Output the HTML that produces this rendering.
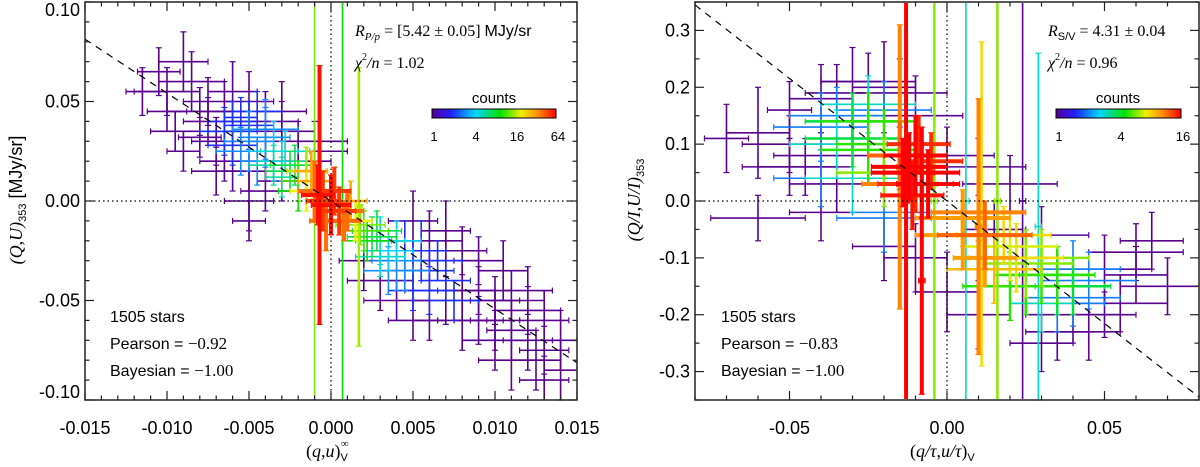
<!DOCTYPE html>
<html><head><meta charset="utf-8">
<style>
html,body{margin:0;padding:0;background:#fff;overflow:hidden;width:1200px;height:467px;}
#wrap{position:relative;width:1200px;height:467px;overflow:hidden;}
svg{display:block;font-family:"Liberation Sans",sans-serif;}
.tk{font-size:18px;fill:#000;}
.ser{font-family:"Liberation Serif",serif;}
</style></head>
<body>
<div id="wrap">
<svg id="chart" width="1200" height="467" viewBox="0 0 1200 467" style="position:absolute;left:0;top:0">
<defs>
<linearGradient id="cmap" x1="0" x2="1" y1="0" y2="0">
<stop offset="0" stop-color="#5a0090"/><stop offset="0.15" stop-color="#2020ff"/><stop offset="0.35" stop-color="#00d8ff"/><stop offset="0.55" stop-color="#00e000"/><stop offset="0.72" stop-color="#f0f000"/><stop offset="0.85" stop-color="#ff9000"/><stop offset="1" stop-color="#ff0000"/>
</linearGradient>
</defs>
<g id="left"></g>
<g id="right"></g>
</svg>
<svg width="1200" height="467" viewBox="0 0 1200 467" style="position:absolute;left:0;top:0;font-family:'Liberation Sans',sans-serif">
<g font-size="16">
<text x="355" y="36" class="ser"><tspan font-style="italic">R</tspan><tspan font-style="italic" font-size="11" dy="4">P/p</tspan><tspan dy="-4"> = [5.42 ± 0.05] </tspan><tspan font-family="Liberation Sans">MJy/sr</tspan></text>
<text x="355" y="68" class="ser"><tspan font-style="italic">χ</tspan><tspan font-size="10" dy="-8">2</tspan><tspan dy="8" font-style="italic">/n</tspan> = 1.02</text>
<text x="494" y="103" text-anchor="middle" font-size="15">counts</text>
<rect x="432" y="109" width="124" height="9" fill="url(#cmap)" stroke="#000"/>
<g font-size="13" text-anchor="middle"><text x="434" y="141">1</text><text x="476" y="141">4</text><text x="517" y="141">16</text><text x="558" y="141">64</text></g>
<text x="110" y="322" font-size="16">1505 stars</text>
<text x="110" y="349" font-size="16">Pearson = <tspan class="ser" font-size="17">−0.92</tspan></text>
<text x="110" y="376" font-size="16">Bayesian = <tspan class="ser" font-size="17">−1.00</tspan></text>
<text x="306" y="457" class="ser" font-size="18">(<tspan font-style="italic">q</tspan>,<tspan font-style="italic">u</tspan>)<tspan font-size="11" dy="4" font-family="Liberation Sans">V</tspan><tspan font-size="11" dx="-7" dy="-14">∞</tspan></text>
<text transform="translate(22,200) rotate(-90)" text-anchor="middle" font-size="18"><tspan class="ser" font-style="italic">(Q,U)</tspan><tspan font-size="11" dy="4">353</tspan><tspan dy="-4"> [MJy/sr]</tspan></text>

<text x="1048" y="36" class="ser"><tspan font-style="italic">R</tspan><tspan font-size="11" dy="4" font-family="Liberation Sans">S/V</tspan><tspan dy="-4"> = 4.31 ± 0.04</tspan></text>
<text x="1048" y="68" class="ser"><tspan font-style="italic">χ</tspan><tspan font-size="10" dy="-8">2</tspan><tspan dy="8" font-style="italic">/n</tspan> = 0.96</text>
<text x="1118" y="103" text-anchor="middle" font-size="15">counts</text>
<rect x="1056" y="109" width="125" height="9" fill="url(#cmap)" stroke="#000"/>
<g font-size="13" text-anchor="middle"><text x="1059" y="141">1</text><text x="1121" y="141">4</text><text x="1183" y="141">16</text></g>
<text x="721" y="322" font-size="16">1505 stars</text>
<text x="721" y="349" font-size="16">Pearson = <tspan class="ser" font-size="17">−0.83</tspan></text>
<text x="721" y="376" font-size="16">Bayesian = <tspan class="ser" font-size="17">−1.00</tspan></text>
<text x="910" y="457" class="ser" font-size="18">(<tspan font-style="italic">q/τ</tspan>,<tspan font-style="italic">u/τ</tspan>)<tspan font-size="11" dy="4" font-family="Liberation Sans">V</tspan></text>
<text transform="translate(640,200) rotate(-90)" text-anchor="middle" font-size="18"><tspan class="ser" font-style="italic">(Q/I,U/I)</tspan><tspan font-size="11" dy="4">353</tspan></text>
</g>
</svg>
</div>
<script>
// LEFT panel data: x in units 1e-3, y in units 1e-2
const lx=[-11.5,-10.5,-9,-10,-8.5,-7.5,-8,-9,-7,-6,-5,-6.5,-5,-4,-3,-2,-4,-3,-6,-5,-5.5,-4,-3.5,-4.5,-3,-2.5,-2,-3,-1,-0.5,0,0.5,1,-1,1.5,2,2.5,3,3.5,4,5,6,7,5.5,6,7,8,9,8,10,11,12,11,12,13,14,12.5,10,9,7,4,6,-1,0.7,-0.7,1.7,
-6.5,-6,-5.5,-5,-4.5,-4,-6,-7,-7.5,-6.5,-5,-3.5,-2.8,-2.2,-2,-1.5,-1.5,-0.8,0.2,0.8,-0.3,-1.2,1.2,1.8,2.2,2.8,3,4,4.5,3.5,5,6.5,7.5,4.5,6,3,5,8,9,10,11,13,14,13,12,10.5,7,5,2,-2,-1,-3,-6,-8,-10,-9.5,-4,-5];
const ly=[5.5,6.5,7,4.5,6,5,3.2,2.5,1.5,1.5,0,4.5,5,4,3.5,3,2,1,3.5,3,4.2,3.2,2.5,2,2,1.5,1,1.2,0.5,0,-0.2,-0.5,-0.5,1,-1,-1.5,-1.8,-2,-2.5,-3,-3.5,-3.5,-4,-2.5,-2,-1.5,-2.5,-3,-4.5,-5,-5,-4.5,-6.5,-7,-7.5,-8.5,-8,-7,-6,-5,-5,-6,0,0,0.3,-0.3,
3.5,2.8,2.5,3.8,4.5,3.6,4.0,3.0,4.0,2,1.5,1.8,2.5,1.8,0.5,1.5,0.5,0.3,0.5,-1,-1,1.5,0,-1.2,-2,-1.5,-2.8,-2,-3.5,-3.5,-4.5,-3,-5,-2.5,-4.5,-4,-6,-6,-4.5,-6,-8,-6,-7,-9,-5.5,-3.5,-3,-1,-3,2,2.5,4.5,5.5,4.5,5.5,3.5,0.5,-1];
const lex=[1,1.3,1.5,1.2,2,1.5,1.3,1,1.5,1,1.5,1.5,1.5,2,2,3,1.5,1.5,1.5,1.5,1,1.5,1.5,1,1.5,1.5,1,1,1,1,1.2,1,1,1,1,1.5,1.5,1.5,1.5,1.5,1.5,1.5,1.5,1.5,2,1.5,1.5,1.5,2,1.5,2,1.5,1.5,1.5,1.5,1,1.5,2,1.5,2,2,1,0.2,0.2,0.2,0.2,
1.5,1.5,1.5,1.5,1.5,2,1.5,1.5,1.5,1.5,1.5,1.5,1.5,1.5,1.2,1.2,1,1,1,1,1,1,1,1.5,1.5,1.5,1.5,1.5,1.5,1.5,1.5,1.5,1.5,1.5,1.5,2,1.5,1.5,2,1.5,2,1.5,1,1.5,2,1.5,2,1.5,1.5,2,2,1.5,1.5,2,2,1.5,1.5,1];
const ley=[1.2,1.2,1.5,1,1.5,1.2,1,1,1.2,1,1.5,1.5,1.5,1.5,1.5,1,1,1,1.5,1.5,1,1.5,1.5,1.2,1,1,1,1,1.5,1.5,1.5,1.2,1,1,1,1,1,1.2,1,1.5,1.5,1,1,1.5,1.5,1.5,1.2,1.2,1.5,1.2,1.5,1.2,1.5,1.5,1.2,1.5,1.5,1.5,1.2,1.2,1,1,20,20,6.5,7,
1.2,1,1.2,1.2,1,1.5,1,1.2,1.2,1,1,1,1,1,1,1.2,1,1.5,1.2,1,1.5,1,1,1,1,1,1,1,1,1.2,1,1,1,1.5,1.2,1.5,1,1.5,1.2,1.5,1.5,1.5,1.5,1.2,1.2,1.5,1.5,1.5,1.5,1.5,1.5,1.5,1.5,1.2,1.2,1,1,1];
const lc=[1,1,1,1,1,1,1,1,1,1,1,1,1,1,1,1,1,1,2,3,2,3,4,3,5,8,12,6,40,50,60,50,40,30,20,12,8,5,4,3,2,2,2,2,1,1,1,1,1,1,1,1,1,1,1,1,1,1,1,1,1,1,14,10,60,16,
2,2,3,2,2,3,2,1,1,1,1,6,5,8,10,16,20,60,50,40,40,30,30,14,10,8,5,4,3,3,2,2,2,2,2,1,1,1,1,1,1,1,1,1,1,1,1,1,1,1,1,1,1,1,1,1,1,1];
const lxTicks=["-0.015","-0.010","-0.005","0.000","0.005","0.010","0.015"];
const lyTicks=["-0.10","-0.05","0.00","0.05","0.10"];
// RIGHT panel data: x in units 1e-2, y in units 1e-1
const rx=[-7,-6,-5,-4,-3.5,-6,-4,-4.5,-3,-2,-4,-3.5,-3,-2.5,-3,-2,-2.5,-1.2,-0.8,-1,-0.5,-1.5,0.5,1.2,1.2,2,2.5,3,3.5,2,4,4.5,3,5,6,7,6.5,5,4.5,3,1.5,0,-1.3,-0.8,-0.4,0.6,1.1,1.0,1.6,2.4,2.9,-1.5,
-5,-4,-3.5,-2.5,-1.5,-1,0,1,2,3,-2,-1,4,5.5,6,1,3.5,-5,-3.5,-2,-4,4,3.5,-1.5,-3,-2,-2.5,-2,2.5,3,3.5,4,1.8,2.2,1.5,0.5,1,-1.5,-1,-1.4,-0.6,-1.1,-0.9];
const ry=[1.1,1.2,1.6,1.8,1.9,-0.3,-0.2,0.6,2.1,2,1.3,1.0,1.4,0.9,0.4,-0.3,1.7,0.6,0.5,0.3,0.7,0.8,-0.3,-0.6,-1,-0.8,-1.1,-1.3,-1.5,-1.5,-1.7,-1.4,-1.8,-1.2,-1.3,-1.5,-0.7,-2.0,-2.3,-2.5,-0.5,-1.6,0,-1.4,0,0,-0.05,-0.45,0,0,-0.45,0.6,
0.6,0.8,0.3,2.1,1.9,1.5,0.8,0.6,0.3,-0.6,-0.8,-1.0,-2.0,-1.8,-0.9,-2,-2.3,1.0,1.5,1.6,0.4,-1.2,-1.8,-0.2,1.1,1.0,1.4,0.5,-1.5,-1.0,-1.3,-1.5,-0.6,-1.0,-1.2,-0.6,-0.2,0.3,0.8,0.5,0.3,0.1,1.0];
const rex=[0.7,1,0.7,1,1,1.5,1,1.5,1,1,1.5,1.5,1.5,1.5,1.5,1.5,1.5,1.2,1.2,1.2,1,1,1.5,1.5,1,1.5,1.5,1.5,1.5,1.5,1.5,1.5,1,1.5,1,1.5,1,1,1,1,1,1,0.1,0.1,0.1,0.1,0.1,0.1,0.1,0.1,0.1,0.1,
1.5,1.5,1.5,1.5,1.5,1.5,1.5,1.5,1.5,1.5,1,1,1.5,1.5,1.5,1,1,1.5,1.5,1.5,1.5,1.5,1.5,1.5,1.5,1.5,1.5,1.5,1.5,1.5,1.2,1.2,1.5,1.5,1.5,1.5,1.5,1.2,1,1,1,1,1];
const rey=[0.6,0.8,0.5,0.6,0.5,0.4,0.5,0.5,0.6,0.8,0.6,0.6,0.5,0.6,0.6,0.6,0.5,0.6,0.8,0.5,0.5,0.6,0.5,0.6,0.5,0.6,0.6,0.5,0.5,0.6,0.5,0.5,0.5,0.6,0.5,0.5,0.5,0.4,0.5,0.5,0.5,0.7,4,2,4,4,2.85,2.25,4,4,3.05,2.5,
0.5,0.5,0.5,0.5,0.6,0.7,0.5,0.5,0.5,0.5,0.6,0.6,0.5,0.5,0.5,0.6,0.5,0.5,0.5,0.5,0.5,0.5,0.5,0.6,0.5,0.6,0.5,0.6,0.5,0.5,0.5,0.5,0.5,0.6,0.6,0.6,0.5,0.5,0.7,0.6,0.6,0.6,0.5];
const rc=[1,1,1,1,1,1,1,1,1,1,2,3,4,5,3,2,3,16,16,14,14,12,10,12,10,7,6,5,4,5,2,2,3,1,1,1,1,1,1,1,1,1,16,16,6,3,8,11,6,1,3,11,
1,1,1,1,1,1,1,1,1,1,1,1,1,1,1,1,1,1,2,2,2,2,2,2,4,5,5,6,5,6,5,4,8,8,9,10,11,11,16,16,16,15,14];
const rxTicks=["-0.05","0.00","0.05"];
const ryTicks=["-0.3","-0.2","-0.1","0.0","0.1","0.2","0.3"];

const NS="http://www.w3.org/2000/svg";
function mk(parent,tag,attrs,txt){const e=document.createElementNS(NS,tag);for(const k in attrs)e.setAttribute(k,attrs[k]);if(txt!==undefined)e.textContent=txt;parent.appendChild(e);return e;}
const stops=[[0,[90,0,144]],[0.15,[32,32,255]],[0.35,[0,216,255]],[0.55,[0,224,0]],[0.72,[240,240,0]],[0.85,[255,144,0]],[1,[255,0,0]]];
function cmap(t){t=Math.max(0,Math.min(1,t));for(let i=1;i<stops.length;i++){if(t<=stops[i][0]){const a=stops[i-1],b=stops[i],f=(t-a[0])/(b[0]-a[0]);return 'rgb('+a[1].map((v,j)=>Math.round(v+(b[1][j]-v)*f)).join(',')+')';}}return 'rgb(255,0,0)';}

function panel(g,P){
  const sx=v=>P.x0+(v-P.xmin)/(P.xmax-P.xmin)*(P.x1-P.x0);
  const sy=v=>P.y1-(v-P.ymin)/(P.ymax-P.ymin)*(P.y1-P.y0);
  const cx=v=>Math.max(P.x0+1,Math.min(P.x1-1,sx(v)));
  const cy=v=>Math.max(P.y0+1,Math.min(P.y1-1,sy(v)));
  const inX=p=>p>=P.x0&&p<=P.x1, inY=p=>p>=P.y0&&p<=P.y1;
  const dg=mk(g,'g',{});
  
  
  const idx=P.X.map((_,i)=>i).sort((a,b)=>P.C[a]-P.C[b]);
  idx.forEach(i=>{
    const x=P.X[i]*P.xu,y=P.Y[i]*P.yu,ex=P.EX[i]*P.xu,ey=P.EY[i]*P.yu;
    const col=cmap(Math.log(P.C[i])/Math.log(P.cmax));
    const sw=P.C[i]>=P.cmax*0.6?4:(P.C[i]>=P.cmax*0.25?2.5:1.6);
    const pg=mk(dg,'g',{stroke:col,'stroke-width':sw,fill:'none'});
    
    
    const py=sy(y),px=sx(x);
    if(inY(py)) mk(pg,'line',{x1:cx(x-ex),x2:cx(x+ex),y1:py,y2:py});
    if(inX(px)) mk(pg,'line',{x1:px,x2:px,y1:cy(y-ey),y2:cy(y+ey)});
    [x-ex,x+ex].forEach(v=>{const p=sx(v);if(inX(p)&&inY(py))mk(pg,'line',{x1:p,x2:p,y1:Math.max(P.y0,py-3),y2:Math.min(P.y1,py+3),'stroke-width':1.2});});
    [y-ey,y+ey].forEach(v=>{const p=sy(v);if(inY(p)&&inX(px))mk(pg,'line',{x1:Math.max(P.x0,px-3),x2:Math.min(P.x1,px+3),y1:p,y2:p,'stroke-width':1.2});});
  });
  let e=mk(g,'line',{x1:P.x0,x2:P.x1,y1:sy(0),y2:sy(0),stroke:'#000','stroke-dasharray':'1.5,3','stroke-width':1.2});
  
  e=mk(g,'line',{x1:sx(0),x2:sx(0),y1:P.y0,y2:P.y1,stroke:'#000','stroke-dasharray':'1.5,3','stroke-width':1.2});
  
  e=mk(g,'line',{x1:sx(P.xmin),y1:cy(P.slope*P.xmin),x2:sx(P.xmax),y2:cy(P.slope*P.xmax),stroke:'#000','stroke-dasharray':'7,6','stroke-width':1.2});
  
  e=mk(g,'rect',{x:P.x0,y:P.y0,width:P.x1-P.x0,height:P.y1-P.y0,fill:'none',stroke:'#222','stroke-width':1.5});
  
  const tg=mk(g,'g',{stroke:'#222','stroke-width':1.2});
  for(let k=0;;k++){const v=P.xmin+k*P.xminor;if(v>P.xmax+1e-9)break;const maj=Math.abs(Math.round(v/P.xmajor)*P.xmajor-v)<1e-9;const L=maj?9:4.5;
    mk(tg,'line',{x1:sx(v),x2:sx(v),y1:P.y1,y2:P.y1-L});mk(tg,'line',{x1:sx(v),x2:sx(v),y1:P.y0,y2:P.y0+L});}
  for(let k=0;;k++){const v=P.ymin+k*P.yminor;if(v>P.ymax+1e-9)break;const maj=Math.abs(Math.round(v/P.ymajor)*P.ymajor-v)<1e-9;const L=maj?9:4.5;
    mk(tg,'line',{y1:sy(v),y2:sy(v),x1:P.x0,x2:P.x0+L});mk(tg,'line',{y1:sy(v),y2:sy(v),x1:P.x1,x2:P.x1-L});}
  P.xt.forEach(t=>{const el=mk(g,'text',{x:sx(parseFloat(t)),y:434,'text-anchor':'middle',class:'tk'},t);
    });
  P.yt.forEach(t=>{let yy=sy(parseFloat(t))+6;yy=Math.max(16,Math.min(yy,398));const el=mk(g,'text',{x:P.x0-5,y:yy,'text-anchor':'end',class:'tk'},t);
    });
}
const left=document.getElementById('left'),right=document.getElementById('right');
panel(left,{id:'L',x0:85,x1:577,y0:2,y1:400,xmin:-0.015,xmax:0.015,ymin:-0.1,ymax:0.1,X:lx,Y:ly,EX:lex,EY:ley,C:lc,xu:1e-3,yu:1e-2,cmax:64,slope:-5.42,xminor:0.001,xmajor:0.005,yminor:0.01,ymajor:0.05,xt:lxTicks,yt:lyTicks});
panel(right,{id:'R',x0:695,x1:1199,y0:2,y1:400,xmin:-0.08,xmax:0.08,ymin:-0.35,ymax:0.35,X:rx,Y:ry,EX:rex,EY:rey,C:rc,xu:1e-2,yu:1e-1,cmax:16,slope:-4.31,xminor:0.01,xmajor:0.05,yminor:0.05,ymajor:0.1,xt:rxTicks,yt:ryTicks});
</script>
</body></html>
